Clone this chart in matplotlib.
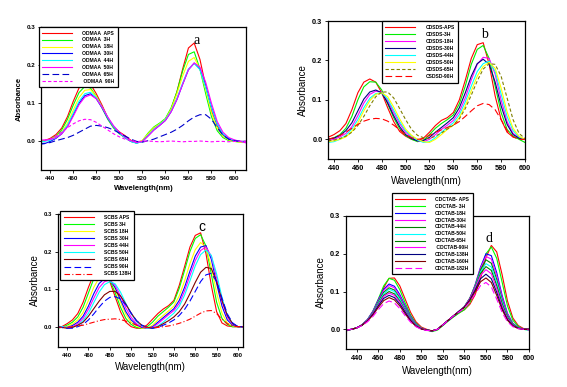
import matplotlib
matplotlib.use("Agg")
import matplotlib.pyplot as plt
import numpy as np

# ---------------- data (absorbance) ----------------
# panel a : ODMAA
wl_a = list(range(430, 611, 5))
labels_a = ["ODMAA  APS", "ODMAA  3H", "ODMAA  18H", "ODMAA  30H",
            "ODMAA  44H", "ODMAA  50H", "ODMAA  65H", " ODMAA  90H"]
a_aps = [0.000, 0.002, 0.008, 0.018, 0.035, 0.065, 0.105, 0.140, 0.155, 0.150, 0.125, 0.095, 0.062, 0.038, 0.025, 0.015, 0.003, -0.004, 0.000,
         0.018, 0.035, 0.045, 0.058, 0.085, 0.130, 0.190, 0.245, 0.258, 0.215, 0.145, 0.080, 0.040, 0.018, 0.006, 0.002, 0.000, 0.000]
a_3h = [0.000, 0.002, 0.006, 0.014, 0.030, 0.058, 0.095, 0.128, 0.144, 0.140, 0.118, 0.088, 0.058, 0.035, 0.020, 0.010, 0.000, -0.004, 0.002,
        0.022, 0.038, 0.048, 0.060, 0.088, 0.130, 0.185, 0.228, 0.235, 0.190, 0.125, 0.065, 0.028, 0.010, 0.002, 0.000, -0.002, -0.002]
a_18h = [0.000, 0.001, 0.005, 0.012, 0.025, 0.048, 0.082, 0.115, 0.134, 0.136, 0.118, 0.090, 0.060, 0.037, 0.022, 0.010, 0.001, -0.004, 0.003,
         0.020, 0.036, 0.046, 0.058, 0.085, 0.125, 0.172, 0.210, 0.220, 0.190, 0.135, 0.075, 0.035, 0.014, 0.004, 0.000, -0.002, -0.002]
a_30h = [-0.008, -0.006, 0.000, 0.008, 0.020, 0.040, 0.070, 0.100, 0.120, 0.125, 0.112, 0.088, 0.060, 0.038, 0.022, 0.010, 0.000, -0.004, 0.000,
         0.015, 0.030, 0.042, 0.055, 0.078, 0.110, 0.150, 0.188, 0.205, 0.190, 0.145, 0.090, 0.045, 0.018, 0.006, 0.002, 0.000, 0.000]
a_44h = [-0.002, 0.000, 0.003, 0.010, 0.022, 0.043, 0.074, 0.105, 0.125, 0.129, 0.115, 0.090, 0.062, 0.039, 0.022, 0.010, 0.000, -0.005, 0.000,
         0.016, 0.032, 0.044, 0.057, 0.080, 0.113, 0.153, 0.190, 0.205, 0.188, 0.142, 0.088, 0.045, 0.020, 0.008, 0.003, 0.000, -0.002]
a_50h = [0.003, 0.004, 0.005, 0.010, 0.020, 0.038, 0.066, 0.096, 0.116, 0.122, 0.112, 0.090, 0.064, 0.041, 0.024, 0.012, 0.002, -0.003, 0.000,
         0.014, 0.030, 0.042, 0.055, 0.078, 0.110, 0.150, 0.188, 0.206, 0.195, 0.155, 0.100, 0.052, 0.024, 0.010, 0.004, 0.000, -0.004]
a_65h = [-0.006, -0.005, -0.003, 0.002, 0.006, 0.010, 0.016, 0.024, 0.032, 0.040, 0.042, 0.040, 0.036, 0.030, 0.022, 0.014, 0.006, 0.000, -0.002,
         0.002, 0.006, 0.012, 0.018, 0.024, 0.032, 0.042, 0.054, 0.064, 0.070, 0.070, 0.058, 0.036, 0.016, 0.006, 0.002, 0.000, 0.000]
a_90h = [0.000, 0.002, 0.006, 0.014, 0.025, 0.036, 0.046, 0.054, 0.058, 0.057, 0.050, 0.040, 0.030, 0.020, 0.012, 0.006, 0.002, 0.000, 0.000,
         0.001, 0.000, -0.001, 0.000, 0.001, 0.000, -0.001, 0.000, 0.000, 0.001, 0.000, -0.001, 0.000, 0.000, -0.001, 0.000, 0.000, 0.000]

# panel b : CDSDS
wl_b = list(range(435, 601, 5))
labels_b = ["CDSDS-APS", "CDSDS-3H", "CDSDS-18H", "CDSDS-30H",
            "CDSDS-44H", "CDSDS-50H", "CDSDS-65H", "CSDSD-90H"]
b_aps = [0.005, 0.012, 0.022, 0.040, 0.075, 0.118, 0.145, 0.153, 0.145, 0.118, 0.080, 0.045, 0.020, 0.008, 0.000, -0.004, 0.003,
         0.018, 0.035, 0.048, 0.055, 0.068, 0.100, 0.150, 0.205, 0.240, 0.245, 0.190, 0.110, 0.050, 0.018, 0.006, 0.002, 0.000]
b_3h = [0.000, 0.004, 0.012, 0.028, 0.058, 0.100, 0.133, 0.146, 0.145, 0.125, 0.090, 0.055, 0.027, 0.010, 0.000, -0.006, -0.002,
        0.012, 0.028, 0.040, 0.050, 0.062, 0.090, 0.135, 0.190, 0.228, 0.238, 0.205, 0.135, 0.068, 0.025, 0.008, 0.000, -0.008]
b_18h = [-0.004, 0.000, 0.006, 0.015, 0.032, 0.060, 0.092, 0.114, 0.122, 0.120, 0.098, 0.068, 0.040, 0.018, 0.005, -0.004, -0.006,
         0.000, 0.012, 0.025, 0.036, 0.048, 0.070, 0.105, 0.150, 0.190, 0.208, 0.205, 0.165, 0.100, 0.045, 0.015, 0.004, 0.000]
b_30h = [0.000, 0.003, 0.010, 0.022, 0.042, 0.072, 0.102, 0.120, 0.125, 0.118, 0.092, 0.060, 0.032, 0.012, 0.002, -0.004, -0.003,
         0.005, 0.018, 0.030, 0.042, 0.055, 0.080, 0.118, 0.160, 0.192, 0.203, 0.190, 0.145, 0.085, 0.038, 0.012, 0.003, 0.000]
b_44h = [-0.008, -0.006, 0.000, 0.010, 0.026, 0.050, 0.080, 0.104, 0.116, 0.118, 0.102, 0.074, 0.045, 0.022, 0.008, -0.002, -0.008,
         -0.006, 0.004, 0.018, 0.030, 0.042, 0.062, 0.095, 0.135, 0.172, 0.192, 0.198, 0.172, 0.115, 0.058, 0.022, 0.006, 0.000]
b_50h = [-0.006, -0.004, 0.000, 0.006, 0.020, 0.042, 0.072, 0.098, 0.114, 0.118, 0.108, 0.082, 0.052, 0.026, 0.010, 0.000, -0.006,
         -0.008, 0.000, 0.012, 0.025, 0.036, 0.055, 0.085, 0.123, 0.160, 0.185, 0.195, 0.180, 0.130, 0.070, 0.028, 0.008, 0.000]
b_65h = [-0.004, -0.002, 0.002, 0.008, 0.018, 0.035, 0.058, 0.085, 0.108, 0.120, 0.120, 0.105, 0.078, 0.050, 0.025, 0.010, 0.004,
         0.002, 0.008, 0.016, 0.026, 0.036, 0.052, 0.078, 0.112, 0.148, 0.178, 0.192, 0.190, 0.160, 0.105, 0.050, 0.015, 0.002]
b_90h = [0.000, 0.004, 0.010, 0.018, 0.028, 0.038, 0.046, 0.051, 0.053, 0.052, 0.046, 0.036, 0.024, 0.012, 0.004, 0.000, 0.002,
         0.010, 0.018, 0.024, 0.030, 0.036, 0.045, 0.058, 0.072, 0.085, 0.091, 0.088, 0.075, 0.050, 0.022, 0.006, 0.000, 0.000]

# panel c : SCBS
wl_c = list(range(430, 606, 5))
labels_c = ["SCBS APS", "SCBS 3H", "SCBS 18H", "SCBS 30H", "SCBS 44H",
            "SCBS 50H", "SCBS 65H", "SCBS 90H", "SCBS 138H"]
c_aps = [-0.004, 0.000, 0.008, 0.018, 0.035, 0.065, 0.105, 0.140, 0.155, 0.150, 0.120, 0.080, 0.040, 0.012, 0.000, -0.004, -0.004, 0.005,
         0.020, 0.035, 0.047, 0.056, 0.070, 0.110, 0.160, 0.212, 0.243, 0.250, 0.195, 0.110, 0.040, 0.010, 0.002, 0.000, 0.000, 0.000]
c_3h = [-0.004, -0.002, 0.004, 0.012, 0.026, 0.052, 0.090, 0.128, 0.148, 0.148, 0.125, 0.090, 0.052, 0.022, 0.006, -0.002, -0.004, 0.000,
        0.012, 0.028, 0.040, 0.052, 0.066, 0.102, 0.150, 0.200, 0.235, 0.245, 0.215, 0.140, 0.065, 0.022, 0.006, 0.000, 0.000, 0.000]
c_18h = [-0.002, -0.002, 0.001, 0.007, 0.018, 0.038, 0.070, 0.105, 0.130, 0.140, 0.130, 0.100, 0.065, 0.033, 0.012, 0.002, -0.004, -0.004,
         0.004, 0.018, 0.030, 0.042, 0.055, 0.082, 0.122, 0.168, 0.205, 0.224, 0.212, 0.160, 0.090, 0.036, 0.010, 0.002, 0.000, 0.000]
c_30h = [0.000, -0.002, -0.002, 0.003, 0.012, 0.028, 0.055, 0.088, 0.115, 0.128, 0.125, 0.104, 0.072, 0.040, 0.018, 0.005, -0.002, -0.004,
         0.000, 0.012, 0.024, 0.036, 0.048, 0.070, 0.105, 0.148, 0.188, 0.212, 0.216, 0.180, 0.115, 0.055, 0.018, 0.004, 0.000, 0.000]
c_44h = [0.000, 0.000, -0.002, 0.000, 0.008, 0.022, 0.046, 0.076, 0.104, 0.120, 0.124, 0.110, 0.082, 0.050, 0.025, 0.008, 0.000, -0.004,
         -0.002, 0.008, 0.020, 0.032, 0.043, 0.062, 0.095, 0.136, 0.176, 0.203, 0.212, 0.188, 0.130, 0.068, 0.025, 0.006, 0.000, 0.000]
c_50h = [0.002, 0.000, -0.002, -0.002, 0.004, 0.016, 0.036, 0.064, 0.092, 0.112, 0.120, 0.114, 0.092, 0.062, 0.034, 0.014, 0.002, -0.004,
         -0.004, 0.002, 0.012, 0.024, 0.036, 0.054, 0.084, 0.122, 0.162, 0.192, 0.204, 0.190, 0.140, 0.078, 0.030, 0.008, 0.000, 0.000]
c_65h = [0.000, -0.002, -0.004, -0.002, 0.004, 0.012, 0.028, 0.048, 0.068, 0.085, 0.094, 0.094, 0.082, 0.060, 0.036, 0.016, 0.004, -0.002,
         -0.004, 0.000, 0.008, 0.016, 0.026, 0.040, 0.060, 0.088, 0.118, 0.145, 0.158, 0.155, 0.120, 0.070, 0.030, 0.008, 0.000, 0.000]
c_90h = [0.000, -0.002, -0.004, -0.004, 0.000, 0.006, 0.018, 0.034, 0.052, 0.068, 0.078, 0.080, 0.074, 0.058, 0.036, 0.016, 0.004, -0.002,
         -0.004, -0.002, 0.004, 0.010, 0.018, 0.030, 0.046, 0.068, 0.094, 0.120, 0.138, 0.142, 0.120, 0.076, 0.034, 0.010, 0.000, 0.000]
c_138h = [0.000, -0.002, -0.002, 0.000, 0.002, 0.004, 0.008, 0.012, 0.016, 0.019, 0.020, 0.021, 0.019, 0.015, 0.010, 0.004, 0.000, -0.002,
          -0.002, -0.002, 0.000, 0.002, 0.005, 0.009, 0.014, 0.020, 0.028, 0.036, 0.042, 0.043, 0.035, 0.020, 0.008, 0.002, 0.000, 0.000]

# panel d : CDCTAB
wl_d = list(range(430, 601, 5))
labels_d = ["CDCTAB- APS", "CDCTAB- 3H", "CDCTAB-18H", "CDCTAB-30H", "CDCTAB-44H", "CDCTAB-50H",
            "CDCTAB-65H", " CDCTAB-90H", "CDCTAB-138H", "CDCTAB-160H", "CDCTAB-182H"]
d_aps = [-0.004, 0.000, 0.004, 0.012, 0.025, 0.045, 0.075, 0.110, 0.135, 0.136, 0.115, 0.080, 0.045, 0.020, 0.006, 0.000, -0.004, 0.000,
         0.012, 0.024, 0.034, 0.044, 0.052, 0.066, 0.092, 0.135, 0.190, 0.222, 0.205, 0.145, 0.075, 0.030, 0.010, 0.002, 0.000]
d_3h = [-0.004, 0.000, 0.004, 0.012, 0.026, 0.048, 0.080, 0.115, 0.135, 0.130, 0.105, 0.070, 0.038, 0.016, 0.004, -0.002, -0.006, -0.002,
        0.010, 0.022, 0.033, 0.043, 0.052, 0.070, 0.102, 0.150, 0.200, 0.218, 0.188, 0.125, 0.062, 0.024, 0.008, 0.000, -0.002]
d_18h = [-0.004, 0.000, 0.004, 0.012, 0.026, 0.048, 0.078, 0.106, 0.120, 0.114, 0.092, 0.062, 0.034, 0.014, 0.003, -0.002, -0.004, 0.000,
         0.012, 0.024, 0.035, 0.046, 0.058, 0.080, 0.118, 0.165, 0.200, 0.195, 0.150, 0.090, 0.042, 0.016, 0.005, 0.000, 0.000]
d_30h = [-0.002, 0.000, 0.004, 0.012, 0.026, 0.047, 0.076, 0.103, 0.116, 0.110, 0.088, 0.058, 0.032, 0.013, 0.003, -0.002, -0.004, 0.000,
         0.012, 0.024, 0.036, 0.047, 0.059, 0.082, 0.118, 0.162, 0.193, 0.186, 0.142, 0.085, 0.040, 0.015, 0.005, 0.000, 0.000]
d_44h = [-0.002, 0.000, 0.004, 0.012, 0.025, 0.045, 0.073, 0.098, 0.110, 0.104, 0.083, 0.055, 0.030, 0.012, 0.002, -0.002, -0.004, 0.000,
         0.012, 0.024, 0.036, 0.047, 0.060, 0.082, 0.116, 0.158, 0.184, 0.175, 0.132, 0.078, 0.036, 0.014, 0.004, 0.000, 0.000]
d_50h = [-0.002, 0.000, 0.004, 0.012, 0.025, 0.044, 0.070, 0.094, 0.106, 0.100, 0.080, 0.053, 0.029, 0.012, 0.002, -0.002, -0.004, 0.000,
         0.012, 0.024, 0.036, 0.048, 0.060, 0.082, 0.114, 0.152, 0.174, 0.165, 0.124, 0.074, 0.034, 0.013, 0.004, 0.000, -0.002]
d_65h = [-0.002, 0.000, 0.004, 0.012, 0.024, 0.043, 0.067, 0.090, 0.100, 0.094, 0.075, 0.050, 0.027, 0.011, 0.002, -0.002, -0.004, 0.000,
         0.012, 0.024, 0.036, 0.048, 0.060, 0.082, 0.112, 0.148, 0.166, 0.156, 0.116, 0.068, 0.032, 0.012, 0.004, 0.000, 0.000]
d_90h = [-0.002, 0.000, 0.004, 0.012, 0.024, 0.042, 0.065, 0.087, 0.096, 0.090, 0.072, 0.048, 0.026, 0.010, 0.002, -0.002, -0.004, 0.000,
         0.012, 0.024, 0.036, 0.048, 0.060, 0.081, 0.110, 0.143, 0.158, 0.147, 0.108, 0.062, 0.029, 0.011, 0.003, 0.000, 0.000]
d_138h = [-0.002, 0.000, 0.004, 0.011, 0.023, 0.040, 0.062, 0.082, 0.090, 0.084, 0.067, 0.045, 0.024, 0.009, 0.001, -0.002, -0.004, 0.000,
          0.012, 0.024, 0.036, 0.048, 0.059, 0.078, 0.104, 0.134, 0.146, 0.134, 0.098, 0.056, 0.026, 0.010, 0.003, 0.000, 0.000]
d_160h = [-0.002, 0.000, 0.004, 0.011, 0.022, 0.038, 0.058, 0.076, 0.084, 0.078, 0.062, 0.041, 0.022, 0.008, 0.001, -0.002, -0.004, 0.000,
          0.012, 0.024, 0.036, 0.047, 0.058, 0.076, 0.100, 0.126, 0.136, 0.124, 0.090, 0.052, 0.024, 0.009, 0.002, 0.000, 0.000]
d_182h = [-0.002, 0.000, 0.004, 0.010, 0.020, 0.034, 0.052, 0.068, 0.075, 0.070, 0.055, 0.036, 0.019, 0.007, 0.000, -0.003, -0.004, 0.000,
          0.012, 0.024, 0.036, 0.046, 0.056, 0.072, 0.094, 0.116, 0.124, 0.112, 0.080, 0.045, 0.020, 0.007, 0.002, 0.000, -0.002]

# ---------------- styles ----------------
styles_a = [("#ff0000", "-"), ("#00ff00", "-"), ("#ffff00", "-"), ("#0000ff", "-"),
            ("#00ffff", "-"), ("#ff00ff", "-"), ("#0000cc", (0, (6, 3))), ("#ff00ff", (0, (3, 2)))]
styles_b = [("#ff0000", "-"), ("#00ee00", "-"), ("#ff00ff", "-"), ("#000080", "-"),
            ("#00ffff", "-"), ("#ffff00", "-"), ("#808000", (0, (3, 2))), ("#ff0000", (0, (6, 3)))]
styles_c = [("#ff0000", "-"), ("#00ff00", "-"), ("#ffff00", "-"), ("#0000ff", "-"), ("#ff00ff", "-"),
            ("#00ffff", "-"), ("#800000", "-"), ("#0000ff", (0, (6, 3))), ("#ff0000", (0, (5, 2, 1, 2)))]
styles_d = [("#ff0000", "-"), ("#00ff00", "-"), ("#0000ff", "-"), ("#ff00ff", "-"), ("#008000", "-"),
            ("#00ffff", "-"), ("#008000", "-"), ("#ff00ff", "-"), ("#000080", "-"), ("#800000", "-"),
            ("#ff00ff", (0, (6, 3)))]

plt.rcParams['font.family'] = ['Liberation Sans', 'DejaVu Sans']

fig = plt.figure(figsize=(5.67, 3.87), dpi=100)


def panel(rect, wl, series, labels, styles, xlim, ylim, letter, letter_xy,
          leg_anchor, letter_font="Liberation Serif", lab_size=6.5, lab_weight="normal",
          tick_size=4.5, leg_fs=3.6, leg_spacing=0.4):
    ax = fig.add_axes(rect)
    for y, lab, (col, ls) in zip(series, labels, styles):
        ax.plot(wl, y, color=col, linestyle=ls, linewidth=0.8, label=lab)
    ax.set_xlim(*xlim)
    ax.set_ylim(*ylim)
    ax.set_xticks(np.arange(440, 601, 20))
    ax.set_yticks([0.0, 0.1, 0.2, 0.3])
    ax.set_yticklabels(["0.0", "0.1", "0.2", "0.3"])
    ax.tick_params(labelsize=tick_size, length=2, width=0.6, direction="out", pad=2)
    for t in ax.get_xticklabels() + ax.get_yticklabels():
        t.set_fontweight("bold")
    for s in ax.spines.values():
        s.set_linewidth(0.9)
    ax.set_xlabel("Wavelength(nm)", fontsize=lab_size, fontweight=lab_weight, labelpad=3)
    ax.set_ylabel("Absorbance", fontsize=lab_size, fontweight=lab_weight, labelpad=3)
    ax.text(letter_xy[0], letter_xy[1], letter, fontsize=10, family=letter_font)
    leg = ax.legend(loc="upper left", bbox_to_anchor=leg_anchor, fontsize=leg_fs,
                    handlelength=6, handletextpad=2, labelspacing=leg_spacing,
                    borderpad=0.7, borderaxespad=0, frameon=True, fancybox=False,
                    edgecolor="black", framealpha=1)
    leg.get_frame().set_linewidth(0.9)
    for t in leg.get_texts():
        t.set_fontweight("bold")
    return ax


panel([0.0723, 0.5607, 0.3616, 0.3695], wl_a,
      [a_aps, a_3h, a_18h, a_30h, a_44h, a_50h, a_65h, a_90h], labels_a, styles_a,
      (432, 610), (-0.075, 0.3), "a", (564, 0.255), (-0.01, 1.0),
      lab_size=5.5, lab_weight="bold", tick_size=4.5, leg_spacing=0.38)

panel([0.5785, 0.5891, 0.3474, 0.3566], wl_b,
      [b_aps, b_3h, b_18h, b_30h, b_44h, b_50h, b_65h, b_90h], labels_b, styles_b,
      (435, 600), (-0.05, 0.3), "b", (563, 0.258), (0.274, 1.0), lab_size=7,
      tick_size=5.3, leg_spacing=0.42)

panel([0.1023, 0.1034, 0.3263, 0.3436], wl_c,
      [c_aps, c_3h, c_18h, c_30h, c_44h, c_50h, c_65h, c_90h, c_138h], labels_c, styles_c,
      (431.5, 604.7), (-0.054, 0.3), "c", (563, 0.256), (0.011, 1.022), lab_size=7,
      tick_size=4.2, letter_font="Liberation Sans", leg_spacing=0.42)

panel([0.6102, 0.0982, 0.3228, 0.3437], wl_d,
      [d_aps, d_3h, d_18h, d_30h, d_44h, d_50h, d_65h, d_90h, d_138h, d_160h, d_182h],
      labels_d, styles_d, (430, 600), (-0.052, 0.3), "d", (560, 0.232), (0.25, 1.17),
      lab_size=7, tick_size=5.3, leg_spacing=0.38)

fig.savefig("out.png", dpi=100)
